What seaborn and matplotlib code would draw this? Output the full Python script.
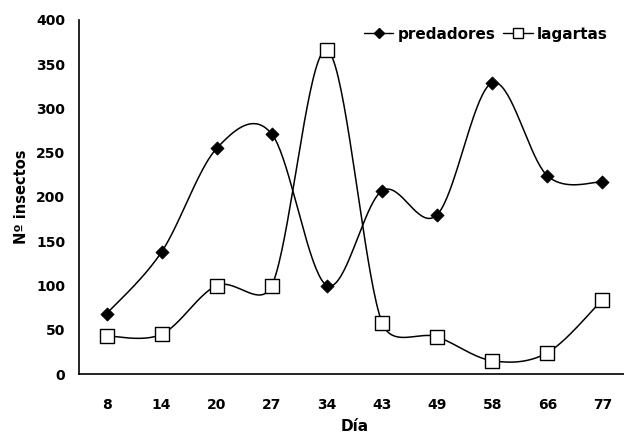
import numpy as np
import pandas as pd
import seaborn as sns
import matplotlib.pyplot as plt
from matplotlib.lines import Line2D

dias = ['8', '14', '20', '27', '34', '43', '49', '58', '66', '77']
predadores = [68, 138, 255, 271, 100, 207, 180, 329, 224, 217]
lagartas = [43, 45, 100, 100, 366, 58, 42, 15, 24, 84]

# escala aproximada en pixeles (x por categoria, y por unidad) para suavizar
SX, SY = 55.1, 0.885


def suave(y, n=40):
    # curva suavizada tipo Excel (Bezier 1/6), con control limitado al tramo
    x = np.arange(len(y), dtype=float) * SX
    y = np.asarray(y, dtype=float) * SY
    P = np.column_stack([x, y])
    m = len(P)
    xs, ys = [], []
    for i in range(m - 1):
        p0, p3 = P[i], P[i + 1]
        seg = np.linalg.norm(p3 - p0)
        d0 = (P[min(i + 1, m - 1)] - P[max(i - 1, 0)]) / 6
        d1 = (P[min(i + 2, m - 1)] - P[i]) / 6
        d0 = d0 * min(1, seg / 2 / np.linalg.norm(d0))
        d1 = d1 * min(1, seg / 2 / np.linalg.norm(d1))
        p1 = p0 + d0
        p2 = p3 - d1
        t = np.linspace(0, 1, n)[:, None]
        b = (1 - t) ** 3 * p0 + 3 * (1 - t) ** 2 * t * p1 + 3 * (1 - t) * t ** 2 * p2 + t ** 3 * p3
        xs.extend(b[:, 0] / SX)
        ys.extend(b[:, 1] / SY)
    return xs, ys


sns.set_style('white')
plt.rcParams['font.family'] = ['DejaVu Sans']
plt.rcParams['font.weight'] = 'bold'
for k in ['text.color', 'axes.labelcolor', 'xtick.color', 'ytick.color']:
    plt.rcParams[k] = 'black'

fig = plt.figure(figsize=(6.24, 4.34), dpi=100)
ax = fig.add_axes([0.1266, 0.1382, 0.883, 0.8158])

pos = np.arange(len(dias))
df = pd.DataFrame({'pos': pos, 'predadores': predadores, 'lagartas': lagartas})

xp, yp = suave(predadores)
xl, yl = suave(lagartas)
sns.lineplot(x=xp, y=yp, ax=ax, color='black', lw=1.1, sort=False, estimator=None)
sns.lineplot(x=xl, y=yl, ax=ax, color='black', lw=1.1, sort=False, estimator=None)
sns.scatterplot(data=df, x='pos', y='predadores', ax=ax, marker='D', s=45,
                color='black', edgecolor='black', zorder=3)
sns.scatterplot(data=df, x='pos', y='lagartas', ax=ax, marker='s', s=110,
                color='white', edgecolor='black', linewidth=1, zorder=3)

ax.set_xlim(-0.5, 9.5)
ax.set_ylim(0, 400)
ax.set_yticks(range(0, 401, 50))
ax.set_xticks(pos)
ax.set_xticklabels(dias)
ax.set_xticks(np.arange(-0.5, 9.6, 1), minor=True)
ax.tick_params(axis='x', which='major', length=0, pad=17, labelsize=10)
ax.tick_params(axis='x', which='minor', length=5, width=1, color='black', direction='out')
ax.tick_params(axis='y', length=5, width=1, color='black', direction='out', labelsize=10, pad=5)
for t in ax.get_xticklabels() + ax.get_yticklabels():
    t.set_fontweight('bold')

sns.despine(ax=ax)
for s in ['left', 'bottom']:
    ax.spines[s].set_color('black')
    ax.spines[s].set_linewidth(1.2)

ax.set_xlabel('Día', fontsize=11, fontweight='bold', labelpad=5)
ax.set_ylabel('Nº insectos', fontsize=10.5, fontweight='bold', labelpad=5)

handles = [
    Line2D([], [], color='black', lw=1, marker='D', markersize=5, markerfacecolor='black'),
    Line2D([], [], color='black', lw=1, marker='s', markersize=7,
           markerfacecolor='white', markeredgecolor='black'),
]
ax.legend(handles, ['predadores', 'lagartas'], loc='upper right', ncol=2, frameon=False,
          bbox_to_anchor=(0.985, 1.02), handlelength=1.9, handletextpad=0.3,
          columnspacing=0.5, prop={'weight': 'bold', 'size': 11})

fig.savefig('out.png', dpi=100)
